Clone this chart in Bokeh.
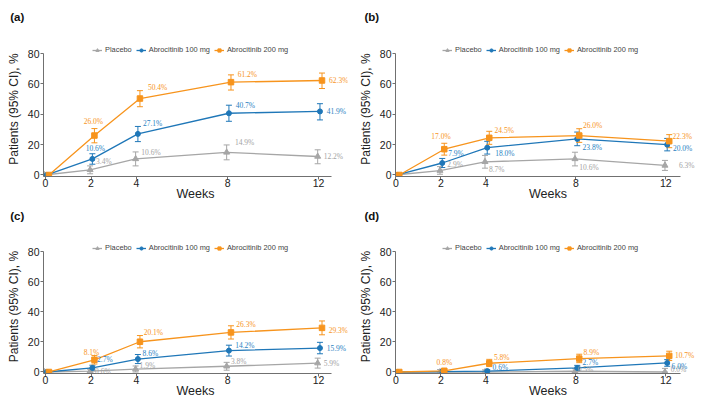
import numpy as np
from bokeh.plotting import figure
from bokeh.models import (ColumnDataSource, Whisker, TeeHead, LabelSet, Title,
                          Legend, LegendItem, Range1d, FixedTicker)
from bokeh.layouts import column, row
from bokeh.embed import file_html
from bokeh.resources import INLINE

# ---------------- data ----------------
WEEKS = [0, 2, 4, 8, 12]
SERIES = ["Placebo", "Abrocitinib 100 mg", "Abrocitinib 200 mg"]
X_TICKS = [0, 2, 4, 8, 12]
Y_TICKS = [0, 20, 40, 60, 80]
PANEL_TAGS = ["(a)", "(b)", "(c)", "(d)"]
X_TITLE = "Weeks"
Y_TITLE = "Patients (95% CI), %"

# panel (a)
A_PLACEBO = [0, 3.4, 10.6, 14.9, 12.2]
A_PLACEBO_LO = [0, 0.8, 6.0, 10.0, 7.4]
A_PLACEBO_HI = [0, 6.0, 15.2, 19.8, 16.6]
A_100 = [0, 10.6, 27.1, 40.7, 41.9]
A_100_LO = [0, 7.1, 22.0, 35.4, 36.3]
A_100_HI = [0, 14.0, 32.0, 46.0, 47.0]
A_200 = [0, 26.0, 50.4, 61.2, 62.3]
A_200_LO = [0, 21.2, 45.0, 56.0, 57.0]
A_200_HI = [0, 30.6, 55.6, 66.0, 67.2]

# panel (b)
B_PLACEBO = [0, 2.9, 8.7, 10.6, 6.3]
B_PLACEBO_LO = [0, 0.5, 4.5, 6.0, 3.0]
B_PLACEBO_HI = [0, 5.5, 12.9, 15.0, 9.6]
B_100 = [0, 7.9, 18.0, 23.8, 20.0]
B_100_LO = [0, 4.9, 13.8, 19.3, 15.9]
B_100_HI = [0, 10.9, 22.2, 28.3, 24.1]
B_200 = [0, 17.0, 24.5, 26.0, 22.3]
B_200_LO = [0, 13.1, 20.2, 21.5, 18.0]
B_200_HI = [0, 20.9, 28.8, 30.5, 26.6]

# panel (c)
C_PLACEBO = [0, 0.6, 1.9, 3.8, 5.9]
C_PLACEBO_LO = [0, 0.0, 0.0, 1.2, 2.6]
C_PLACEBO_HI = [0, 1.8, 4.0, 6.4, 9.2]
C_100 = [0, 2.7, 8.6, 14.2, 15.9]
C_100_LO = [0, 0.9, 5.6, 10.6, 12.1]
C_100_HI = [0, 4.5, 11.6, 17.8, 19.7]
C_200 = [0, 8.1, 20.1, 26.3, 29.3]
C_200_LO = [0, 5.3, 16.0, 21.9, 24.7]
C_200_HI = [0, 10.9, 24.2, 30.7, 33.9]

# panel (d)
D_PLACEBO = [0, 0.0, 0.0, 0.5, 0.0]
D_PLACEBO_LO = [0, 0.0, 0.0, 0.0, 0.0]
D_PLACEBO_HI = [0, 1.6, 1.4, 2.2, 2.4]
D_100 = [0, 0.3, 0.6, 2.7, 6.0]
D_100_LO = [0, 0.0, 0.0, 1.0, 3.8]
D_100_HI = [0, 1.0, 1.5, 4.4, 8.2]
D_200 = [0, 0.8, 5.8, 8.9, 10.7]
D_200_LO = [0, 0.0, 3.6, 6.2, 7.6]
D_200_HI = [0, 1.8, 8.4, 11.8, 13.8]

# which points carry a printed value label (week 0 never does)
A_SHOW = [[0, 1, 1, 1, 1], [0, 1, 1, 1, 1], [0, 1, 1, 1, 1]]
B_SHOW = [[0, 1, 1, 1, 1], [0, 1, 1, 1, 1], [0, 1, 1, 1, 1]]
C_SHOW = [[0, 1, 1, 1, 1], [0, 1, 1, 1, 1], [0, 1, 1, 1, 1]]
D_SHOW = [[0, 0, 0, 1, 1], [0, 0, 1, 1, 1], [0, 1, 1, 1, 1]]

PANEL_DATA = [
    [(A_PLACEBO, A_PLACEBO_LO, A_PLACEBO_HI), (A_100, A_100_LO, A_100_HI), (A_200, A_200_LO, A_200_HI)],
    [(B_PLACEBO, B_PLACEBO_LO, B_PLACEBO_HI), (B_100, B_100_LO, B_100_HI), (B_200, B_200_LO, B_200_HI)],
    [(C_PLACEBO, C_PLACEBO_LO, C_PLACEBO_HI), (C_100, C_100_LO, C_100_HI), (C_200, C_200_LO, C_200_HI)],
    [(D_PLACEBO, D_PLACEBO_LO, D_PLACEBO_HI), (D_100, D_100_LO, D_100_HI), (D_200, D_200_LO, D_200_HI)],
]
PANEL_SHOW = [A_SHOW, B_SHOW, C_SHOW, D_SHOW]

# ---------------- styles ----------------
FONT = "Liberation Sans"
COLORS = ["#a6a6a6", "#1f77b8", "#f7941d"]
LABEL_COLORS = ["#a3a3a3", "#2a7fbf", "#f7941d"]
MARKERS = ["triangle", "circle", "square"]
MARKER_SIZES = [6, 5, 5.5]
DODGE = [-0.04, 0.06, 0.15]

# label offsets in pixels (dx right, dy down) for weeks 2, 4, 8, 12
LABEL_OFFSETS = [
    [[(6, -8), (5.7, -6.7), (8.3, -10), (6, 0)],
     [(-6.7, -10), (5, -10), (6.7, -7.3), (6.7, 0)],
     [(-10.7, -14), (8, -10.7), (6.7, -7.7), (7, 0)]],
    [[(7.3, -5.7), (4, 7.3), (4.3, 8.7), (14, 0)],
     [(6, -10), (8, 6), (5.3, 8.7), (5.7, 4)],
     [(-13, -12.3), (5.3, -7), (3.7, -9.7), (3.3, -4.3)]],
    [[(5, 0), (4, -3.7), (4.3, -4.3), (6, 0)],
     [(4.7, -8.3), (4.7, -5.7), (6.3, -5), (6.7, 0)],
     [(-10.7, -7), (3.7, -9.7), (5.3, -8), (6.7, 2.3)]],
    [[(0, 0), (0, 0), (2.7, -2), (5.7, -2)],
     [(0, 0), (5.3, -3.3), (5.3, -5), (4.3, 3.7)],
     [(-7.7, -8), (4.7, -5.3), (4.3, -5.7), (5.7, 0)]],
]

# frame extends beyond the axes (right: value labels, top: legend); axis lines bounded
X_RANGES = [(-0.088, 13.27), (-0.018, 13.54)]
X_BOUNDS = [(-0.088, 12.56), (-0.018, 12.64)]
Y_RANGE = (-1, 88)
Y_BOUNDS = (-1, 80)
LEGEND_X = [49, 47]


def make_panel(idx, width, height, bl, br, bt, bb, tag_offset, tag_gap, legend_gap):
    col = idx % 2
    p = figure(width=width, height=height, title=None,
               x_range=Range1d(*X_RANGES[col]), y_range=Range1d(*Y_RANGE),
               output_backend="svg", toolbar_location=None,
               min_border_left=bl, min_border_right=br,
               min_border_top=bt, min_border_bottom=bb)
    p.outline_line_color = None
    p.grid.visible = False
    p.background_fill_color = "white"
    p.border_fill_color = "white"

    for ax in (p.xaxis[0], p.yaxis[0]):
        ax.axis_line_color = "#707070"
        ax.major_tick_line_color = "#707070"
        ax.major_tick_in = 0
        ax.major_tick_out = 3
        ax.minor_tick_line_color = None
        ax.major_label_text_font = FONT
        ax.major_label_text_font_size = "10.5px"
        ax.major_label_text_color = "#222222"
        ax.axis_label_text_font = FONT
        ax.axis_label_text_font_style = "normal"
        ax.axis_label_text_color = "#222222"
    p.xaxis.ticker = FixedTicker(ticks=X_TICKS)
    p.yaxis.ticker = FixedTicker(ticks=Y_TICKS)
    p.xaxis.bounds = X_BOUNDS[col]
    p.yaxis.bounds = Y_BOUNDS
    p.xaxis.major_label_standoff = -1
    p.xaxis.axis_label = X_TITLE
    p.xaxis.axis_label_text_font_size = "12.5px"
    p.xaxis.axis_label_standoff = -3
    p.yaxis.major_label_standoff = 1
    p.yaxis.axis_label = Y_TITLE
    p.yaxis.axis_label_text_font_size = "12px"
    p.yaxis.axis_label_standoff = 4

    items = []
    for s in range(3):
        vals, lo, hi = PANEL_DATA[idx][s]
        xs = np.array(WEEKS, dtype=float) + DODGE[s]
        src = ColumnDataSource(dict(x=xs, y=vals))
        lr = p.line("x", "y", source=src, line_color=COLORS[s], line_width=1.3)
        wsrc = ColumnDataSource(dict(x=xs[1:], lo=lo[1:], hi=hi[1:]))
        wh = Whisker(source=wsrc, base="x", lower="lo", upper="hi",
                     line_color=COLORS[s], line_width=1,
                     upper_head=TeeHead(size=6, line_color=COLORS[s], line_width=1),
                     lower_head=TeeHead(size=6, line_color=COLORS[s], line_width=1))
        p.add_layout(wh)
        mr = p.scatter("x", "y", source=src, marker=MARKERS[s], size=MARKER_SIZES[s],
                       fill_color=COLORS[s], line_color=COLORS[s])
        items.append(LegendItem(label=SERIES[s], renderers=[lr, mr]))

        show = PANEL_SHOW[idx][s]
        lx, ly, lt, ldx, ldy = [], [], [], [], []
        for k in range(1, 5):
            if show[k]:
                dx, dy = LABEL_OFFSETS[idx][s][k - 1]
                lx.append(xs[k])
                ly.append(vals[k])
                lt.append(f"{vals[k]:.1f}%")
                ldx.append(dx)
                ldy.append(-dy)
        lsrc = ColumnDataSource(dict(x=lx, y=ly, text=lt, dx=ldx, dy=ldy))
        ls = LabelSet(x="x", y="y", text="text", x_offset="dx", y_offset="dy",
                      source=lsrc, text_font=FONT, text_font_size="7.5px",
                      text_color=LABEL_COLORS[s], text_align="left",
                      text_baseline="middle")
        p.add_layout(ls)

    frame_h = height - bt - bb
    legend = Legend(items=items, orientation="horizontal",
                    location=(LEGEND_X[col], frame_h - legend_gap),
                    glyph_width=10, glyph_height=8, label_height=9,
                    label_standoff=3, spacing=4, padding=0, margin=0,
                    border_line_color=None, background_fill_alpha=0,
                    label_text_font=FONT, label_text_font_size="7.4px",
                    label_text_color="#444444")
    p.add_layout(legend, "center")
    # blank spacer band between the frame and the panel tag
    p.add_layout(Title(text=" ", standoff=tag_gap, text_font=FONT,
                       text_font_size="11.5px"), "above")
    p.add_layout(Title(text=PANEL_TAGS[idx], align="left", vertical_align="bottom",
                       offset=tag_offset, standoff=0,
                       text_font=FONT, text_font_size="11.5px",
                       text_font_style="bold", text_color="#111111"), "above")
    return p


# top row: frame top 41, frame h 136; bottom row: frame top 203+36, frame h 135
pa = make_panel(0, 352, 203, 43, 5, 41, 26, -33.3, 4.7, 14.2)
pb = make_panel(1, 348, 203, 43, 0, 41, 26, -31, 4.7, 14.2)
pc = make_panel(2, 352, 197, 43, 5, 36, 26, -33.3, 3.5, 14)
pd = make_panel(3, 348, 197, 43, 0, 36, 26, -31, 3.5, 14)

layout = column(row(pa, pb), row(pc, pd))
open("out.html", "w").write(file_html(layout, INLINE))
